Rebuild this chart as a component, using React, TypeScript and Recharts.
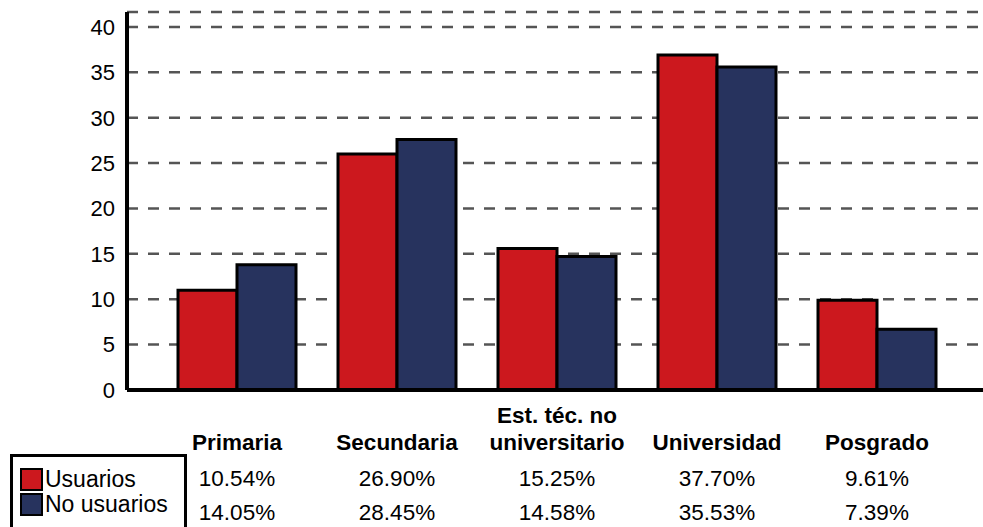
import { BarChart, Bar, XAxis, YAxis, CartesianGrid } from "recharts";

// Education level categories (\n = line break in the label)
const categories = [
  "Primaria",
  "Secundaria",
  "Est. téc. no\nuniversitario",
  "Universidad",
  "Posgrado",
];

// Bar heights
const usuarios = [11.0, 26.0, 15.6, 36.9, 9.9];
const noUsuarios = [13.8, 27.6, 14.7, 35.6, 6.7];

// Percentages printed in the table under the axis
const usuariosLabels = ["10.54%", "26.90%", "15.25%", "37.70%", "9.61%"];
const noUsuariosLabels = ["14.05%", "28.45%", "14.58%", "35.53%", "7.39%"];

const yTicks = [0, 5, 10, 15, 20, 25, 30, 35, 40];

const seriesNames = ["Usuarios", "No usuarios"];
const RED = "#cc181e";
const NAVY = "#27335e";
const FONT = "'Liberation Sans', Arial, sans-serif";

const data = categories.map((c, i) => ({
  category: c,
  usuarios: usuarios[i],
  noUsuarios: noUsuarios[i],
  uLabel: usuariosLabels[i],
  nLabel: noUsuariosLabels[i],
}));

// category name (bold) + the two table rows, placed by the axis scale
function CategoryTick(props: any) {
  const { x, y, index } = props;
  const row = data[index];
  const lines = row.category.split("\n");
  return (
    <g fontFamily={FONT} fill="#000" textAnchor="middle">
      {lines.map((ln: string, k: number) => (
        <text
          key={k}
          x={x}
          y={y + 60 - (lines.length - 1 - k) * 27}
          fontSize={22.5}
          fontWeight="bold"
        >
          {ln}
        </text>
      ))}
      <text x={x} y={y + 96} fontSize={22.5}>
        {row.uLabel}
      </text>
      <text x={x} y={y + 130} fontSize={22.5}>
        {row.nLabel}
      </text>
    </g>
  );
}

function LegendBox() {
  const items = [
    { name: seriesNames[0], color: RED },
    { name: seriesNames[1], color: NAVY },
  ];
  return (
    <div
      style={{
        position: "absolute",
        left: 10,
        top: 454,
        width: 164,
        height: 90,
        border: "3px solid #000",
        fontFamily: FONT,
        fontSize: 23,
        lineHeight: "25px",
        paddingTop: 10,
        paddingLeft: 7,
        boxSizing: "content-box",
      }}
    >
      {items.map((it) => (
        <div key={it.name} style={{ display: "flex", alignItems: "center" }}>
          <span
            style={{
              display: "inline-block",
              width: 19,
              height: 19,
              background: it.color,
              border: "2px solid #000",
              marginRight: 2,
            }}
          />
          <span>{it.name}</span>
        </div>
      ))}
    </div>
  );
}

export default function App() {
  return (
    <div
      style={{
        position: "absolute",
        left: 0,
        top: 0,
        width: 983,
        height: 527,
        overflow: "hidden",
        background: "#fff",
      }}
    >
      <BarChart
        width={983}
        height={527}
        data={data}
        margin={{ top: 12, right: 0, left: 0, bottom: 0 }}
        barCategoryGap={21}
        barGap={0}
        style={{ fontFamily: FONT }}
      >
        <CartesianGrid
          vertical={false}
          stroke="#555"
          strokeWidth={2.5}
          strokeDasharray="11 10"
        />
        <XAxis
          dataKey="category"
          interval={0}
          height={137}
          padding={{ left: 30, right: 26 }}
          axisLine={{ stroke: "#000", strokeWidth: 4 }}
          tickLine={false}
          tickSize={0}
          tickMargin={0}
          tick={<CategoryTick />}
        />
        <YAxis
          width={127}
          domain={[0, 41.65]}
          ticks={yTicks}
          allowDataOverflow
          axisLine={{ stroke: "#000", strokeWidth: 4 }}
          tickLine={false}
          tickMargin={6}
          tick={{ fontSize: 22, fill: "#000", fontFamily: FONT }}
        />
        <Bar
          dataKey="usuarios"
          name={seriesNames[0]}
          fill={RED}
          stroke="#000"
          strokeWidth={3}
          isAnimationActive={false}
        />
        <Bar
          dataKey="noUsuarios"
          name={seriesNames[1]}
          fill={NAVY}
          stroke="#000"
          strokeWidth={3}
          isAnimationActive={false}
        />
      </BarChart>
      <LegendBox />
    </div>
  );
}
